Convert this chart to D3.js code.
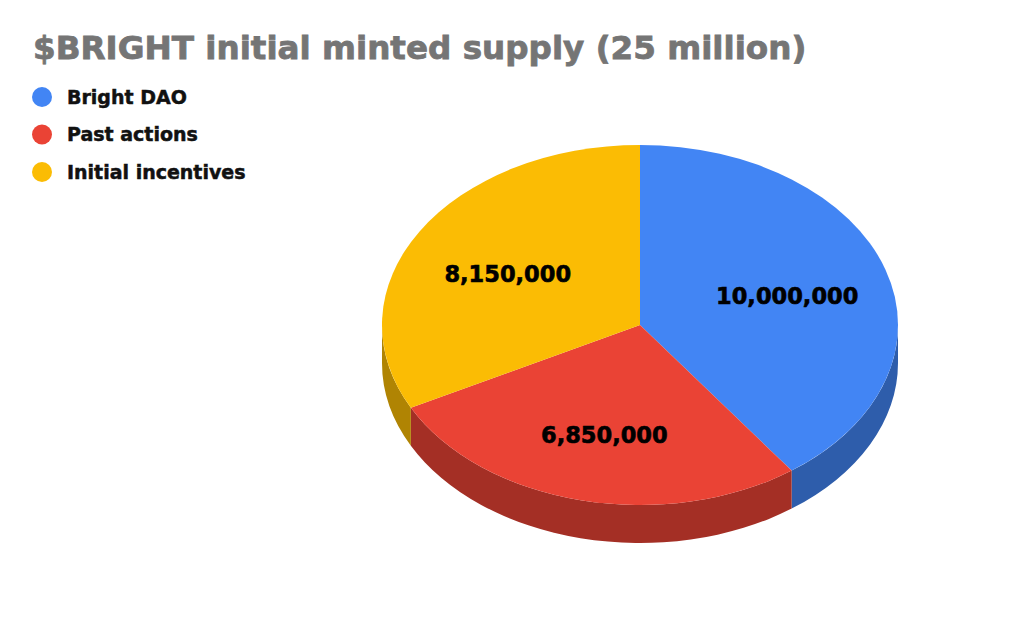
<!DOCTYPE html>
<html>
<head>
<meta charset="utf-8">
<script src="https://cdn.jsdelivr.net/npm/d3@7"></script>
<style>
  html, body { margin: 0; padding: 0; background: #fff; }
  svg { display: block; }
</style>
</head>
<body>
<div id="chart"></div>
<script>
"use strict";

const categories = ["Bright DAO", "Past actions", "Initial incentives"];
const values = [10000000, 6850000, 8150000];
const colors = ["#4285F4", "#EA4335", "#FBBC04"];
const title = "$BRIGHT initial minted supply (25 million)";

const width = 1024;
const height = 633;
const cx = 640;
const cy = 325;
const rx = 258;
const ry = 180;
const depth = 38;
const squash = ry / rx;
const font = "'DejaVu Sans', Verdana, sans-serif";

const svg = d3.select("#chart").append("svg")
  .attr("width", width)
  .attr("height", height);

svg.append("text")
  .attr("x", 33)
  .attr("y", 59)
  .text(title)
  .style("font-family", font)
  .style("font-weight", "bold")
  .style("font-size", "32.6px")
  .style("fill", "#757575")
  .style("stroke", "#757575")
  .style("stroke-width", 0.8);

// legend
const legend = svg.append("g").attr("class", "legend");
const legendRow = legend.selectAll("g")
  .data(categories)
  .join("g")
  .attr("transform", function(d, i) { return "translate(42," + (97 + i * 37.5) + ")"; });

legendRow.append("circle")
  .attr("r", 10)
  .attr("fill", function(d, i) { return colors[i]; });

legendRow.append("text")
  .attr("x", 25)
  .attr("dy", "0.36em")
  .text(function(d) { return d; })
  .style("font-family", font)
  .style("font-weight", "bold")
  .style("font-size", "19px")
  .style("fill", "#111")
  .style("stroke", "#111")
  .style("stroke-width", 0.5);

const pie = d3.pie().sort(null).value(function(d) { return d; });
const slices = pie(values);

// everything in the pie group is drawn in circle space, then squashed
const pieG = svg.append("g")
  .attr("transform", "translate(" + cx + "," + cy + ") scale(1," + squash + ")");

const drop = depth / squash;

// outer wall, only the front half (pi/2 .. 3pi/2) can be seen
function sidePath(d) {
  const a0 = Math.max(d.startAngle, Math.PI / 2);
  const a1 = Math.min(d.endAngle, 3 * Math.PI / 2);
  if (a1 <= a0) return null;
  const p = d3.path();
  p.arc(0, 0, rx, a0 - Math.PI / 2, a1 - Math.PI / 2);
  p.lineTo(rx * Math.sin(a1), -rx * Math.cos(a1) + drop);
  p.arc(0, drop, rx, a1 - Math.PI / 2, a0 - Math.PI / 2, true);
  p.closePath();
  return p.toString();
}

pieG.selectAll(".side")
  .data(slices.filter(function(d) { return sidePath(d) != null; }))
  .join("path")
  .attr("class", "side")
  .attr("d", sidePath)
  .attr("fill", function(d) { return d3.rgb(colors[d.index]).darker(1); });

const arc = d3.arc().innerRadius(0).outerRadius(rx);

pieG.selectAll(".top")
  .data(slices)
  .join("path")
  .attr("class", "top")
  .attr("d", arc)
  .attr("fill", function(d) { return colors[d.index]; });

// value labels, placed in screen space so the text is not squashed
const labelArc = d3.arc().innerRadius(rx * 0.6).outerRadius(rx * 0.6);
const fmt = d3.format(",");

svg.append("g")
  .selectAll("text")
  .data(slices)
  .join("text")
  .attr("x", function(d) { return cx + labelArc.centroid(d)[0]; })
  .attr("y", function(d) { return cy + depth / 8 + labelArc.centroid(d)[1] * squash; })
  .attr("dy", "0.36em")
  .text(function(d) { return fmt(d.value); })
  .style("font-family", font)
  .style("font-weight", "bold")
  .style("font-size", "22.5px")
  .style("text-anchor", "middle")
  .style("fill", "#000")
  .style("stroke", "#000")
  .style("stroke-width", 0.6);
</script>
</body>
</html>
